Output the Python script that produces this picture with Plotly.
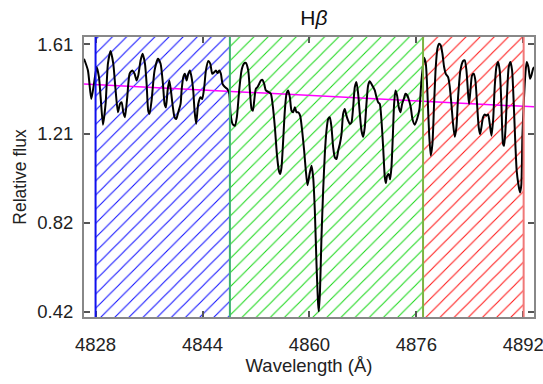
import plotly.graph_objects as go

# Spectrum (wavelength in Angstrom, relative flux)
wavelength = [
    4826.27, 4826.86, 4827.36, 4827.76, 4828.16, 4828.51, 4828.76, 4829.11, 4829.50, 4829.85,
    4830.25, 4830.65, 4831.00, 4831.35, 4831.65, 4831.90, 4832.15, 4832.40, 4832.74, 4833.09,
    4833.49, 4833.84, 4834.14, 4834.39, 4834.74, 4835.04, 4835.39, 4835.64, 4835.88, 4836.08,
    4836.38, 4836.83, 4837.33, 4837.73, 4838.08, 4838.33, 4838.53, 4838.78, 4839.03, 4839.27,
    4839.57, 4839.82, 4840.07, 4840.37, 4840.72, 4840.87, 4841.12, 4841.37, 4841.62, 4841.87,
    4842.12, 4842.36, 4842.61, 4842.81, 4843.05, 4843.36, 4843.71, 4843.96, 4844.26, 4844.51,
    4844.86, 4845.16, 4845.46, 4845.75, 4846.00, 4846.25, 4846.50, 4846.75, 4847.00, 4847.35,
    4847.70, 4848.00, 4848.20, 4848.50, 4848.85, 4849.14, 4849.49, 4849.84, 4850.19, 4850.49,
    4850.84, 4851.09, 4851.34, 4851.54, 4851.74, 4851.98, 4852.23, 4852.48, 4852.73, 4852.98,
    4853.23, 4853.48, 4853.93, 4854.23, 4854.48, 4854.83, 4855.13, 4855.43, 4855.62, 4855.82,
    4856.07, 4856.32, 4856.57, 4856.82, 4857.07, 4857.32, 4857.57, 4857.82, 4858.07, 4858.32,
    4858.61, 4858.91, 4859.21, 4859.46, 4859.71, 4860.01, 4860.31, 4860.56, 4860.81, 4861.06,
    4861.31, 4861.41, 4861.58, 4861.80, 4862.05, 4862.30, 4862.55, 4862.80, 4863.05, 4863.30,
    4863.55, 4863.80, 4864.05, 4864.30, 4864.55, 4864.80, 4865.04, 4865.29, 4865.54, 4865.79,
    4866.04, 4866.29, 4866.54, 4866.79, 4867.04, 4867.29, 4867.54, 4867.79, 4868.04, 4868.28,
    4868.53, 4868.78, 4869.03, 4869.28, 4869.53, 4869.78, 4870.03, 4870.28, 4870.53, 4870.78,
    4871.03, 4871.28, 4871.42, 4871.62, 4871.87, 4872.07, 4872.27, 4872.47, 4872.67, 4872.87,
    4873.12, 4873.37, 4873.62, 4873.87, 4874.12, 4874.37, 4874.66, 4874.91, 4875.16, 4875.41,
    4875.76, 4876.11, 4876.46, 4876.76, 4877.16, 4877.41, 4877.66, 4877.91, 4878.15, 4878.40,
    4878.65, 4878.90, 4879.15, 4879.40, 4879.65, 4879.90, 4880.15, 4880.40, 4880.75, 4881.00,
    4881.24, 4881.49, 4881.74, 4881.99, 4882.24, 4882.59, 4882.99, 4883.24, 4883.49, 4883.74,
    4883.89, 4884.09, 4884.33, 4884.58, 4884.83, 4885.08, 4885.33, 4885.53, 4885.73, 4885.98,
    4886.23, 4886.48, 4886.73, 4886.98, 4887.23, 4887.48, 4887.72, 4887.97, 4888.22, 4888.47,
    4888.72, 4888.97, 4889.12, 4889.32, 4889.57, 4889.82, 4890.07, 4890.32, 4890.57, 4890.81,
    4891.01, 4891.26, 4891.51, 4891.71, 4891.86, 4892.06, 4892.31, 4892.51, 4892.76, 4893.01,
    4893.21, 4893.46, 4893.61,
]
flux = [
    1.546, 1.494, 1.367, 1.434, 1.509, 1.464, 1.375, 1.253, 1.345, 1.524,
    1.580, 1.524, 1.405, 1.308, 1.345, 1.353, 1.308, 1.286, 1.375, 1.479,
    1.494, 1.479, 1.449, 1.472, 1.539, 1.568, 1.524, 1.434, 1.315, 1.301,
    1.360, 1.494, 1.546, 1.524, 1.434, 1.345, 1.330, 1.405, 1.449, 1.405,
    1.330, 1.286, 1.278, 1.308, 1.345, 1.405, 1.464, 1.479, 1.449, 1.479,
    1.494, 1.464, 1.405, 1.315, 1.257, 1.345, 1.375, 1.367, 1.420, 1.494,
    1.536, 1.524, 1.479, 1.486, 1.494, 1.482, 1.494, 1.479, 1.434, 1.420,
    1.412, 1.390, 1.301, 1.256, 1.248, 1.286, 1.405, 1.494, 1.524, 1.527,
    1.494, 1.405, 1.323, 1.315, 1.360, 1.412, 1.420, 1.434, 1.449, 1.452,
    1.434, 1.405, 1.397, 1.390, 1.345, 1.241, 1.122, 1.048, 1.033, 1.063,
    1.182, 1.315, 1.390, 1.405, 1.375, 1.315, 1.308, 1.330, 1.308, 1.308,
    1.293, 1.226, 1.137, 1.048, 0.983, 1.033, 1.070, 1.018, 0.869, 0.631,
    0.453, 0.423, 0.512, 0.750, 0.958, 1.122, 1.226, 1.278, 1.286, 1.241,
    1.152, 1.107, 1.100, 1.137, 1.167, 1.211, 1.301, 1.323, 1.293, 1.271,
    1.256, 1.263, 1.330, 1.420, 1.442, 1.390, 1.301, 1.226, 1.199, 1.241,
    1.345, 1.427, 1.446, 1.434, 1.420, 1.405, 1.375, 1.353, 1.345, 1.271,
    1.152, 1.018, 0.993, 1.025, 1.033, 1.010, 1.063, 1.196, 1.345, 1.405,
    1.382, 1.330, 1.308, 1.345, 1.367, 1.390, 1.382, 1.360, 1.330, 1.278,
    1.253, 1.278, 1.323, 1.449, 1.550, 1.524, 1.390, 1.211, 1.115, 1.167,
    1.345, 1.509, 1.591, 1.613, 1.605, 1.568, 1.509, 1.479, 1.464, 1.420,
    1.345, 1.256, 1.199, 1.241, 1.375, 1.494, 1.536, 1.539, 1.494, 1.390,
    1.345, 1.405, 1.472, 1.479, 1.449, 1.345, 1.241, 1.211, 1.241, 1.286,
    1.298, 1.293, 1.298, 1.256, 1.204, 1.271, 1.420, 1.509, 1.531, 1.494,
    1.345, 1.167, 1.159, 1.226, 1.390, 1.509, 1.531, 1.494, 1.345, 1.167,
    1.048, 0.988, 0.951, 0.988, 1.196, 1.345, 1.479, 1.531, 1.509, 1.457,
    1.472, 1.501, 1.509,
]

# Continuum fit (magenta line) endpoints
continuum_wave = [4826.27, 4893.61]
continuum_flux = [1.434, 1.332]

# Index bands: blue continuum, green line band, red continuum
band_names = ["blue", "line", "red"]
band_start = [4828.0, 4848.1, 4877.0]
band_end = [4848.1, 4877.0, 4892.05]
band_hatch_colors = ["#1414ff", "#1ed81e", "#ff1a1a"]
boundary_wave = [4828.0, 4848.1, 4877.0, 4892.05]
boundary_colors = ["#1010ee", "#3cb371", "#7cb342", "#f07878"]

x_ticks = [4828, 4844, 4860, 4876, 4892]
y_tickvals = [0.42, 0.8167, 1.2133, 1.61]
y_ticktext = ["0.42", "0.82", "1.21", "1.61"]

x_range = [4826.27, 4893.6]
y_range = [0.3977, 1.6426]

fig = go.Figure()

for s, e, c, n in zip(band_start, band_end, band_hatch_colors, band_names):
    fig.add_trace(go.Scatter(
        x=[s, e, e, s, s], y=[0, 0, 2, 2, 0],
        mode="lines", line=dict(width=0), fill="toself",
        fillcolor="rgba(0,0,0,0)",
        fillpattern=dict(shape="/", fgcolor=c, bgcolor="rgba(0,0,0,0)",
                         fgopacity=1, size=10, solidity=0.11),
        hoverinfo="skip", showlegend=False, name=n,
    ))

for w, c in zip(boundary_wave, boundary_colors):
    fig.add_shape(type="line", xref="x", yref="paper", x0=w, x1=w, y0=0, y1=1,
                  line=dict(color=c, width=2), layer="above")

fig.add_trace(go.Scatter(
    x=continuum_wave, y=continuum_flux, mode="lines",
    line=dict(color="#ff00ff", width=1.5), showlegend=False,
))

fig.add_trace(go.Scatter(
    x=wavelength, y=flux, mode="lines",
    line=dict(color="black", width=2, shape="spline", smoothing=0.6),
    showlegend=False,
))

font_family = "Liberation Sans, Arial, sans-serif"
fig.update_layout(
    width=543, height=384,
    margin=dict(l=84, r=9, t=37, b=67, autoexpand=False),
    paper_bgcolor="white", plot_bgcolor="white",
    font=dict(family=font_family, size=18.5, color="#222"),
    title=dict(text="H<i>β</i>", x=0.578, xanchor="center", y=0.955, yanchor="middle",
               font=dict(size=21, color="#111")),
    showlegend=False,
)
fig.update_xaxes(
    range=x_range, tickvals=x_ticks, ticks="inside", ticklen=6, tickwidth=1.5,
    tickcolor="#555", showline=True, linecolor="#888", linewidth=2, mirror="ticks",
    showgrid=False, zeroline=False, ticklabelstandoff=10, automargin=False,
    ticklabeloverflow="allow",
    title=dict(text="Wavelength (Å)", standoff=5, font=dict(size=18.5)),
)
fig.update_yaxes(
    range=y_range, tickvals=y_tickvals, ticktext=y_ticktext, ticks="inside", ticklen=6,
    tickwidth=1.5, tickcolor="#555", showline=True, linecolor="#888", linewidth=2,
    mirror="ticks", showgrid=False, zeroline=False, ticklabelstandoff=5, automargin=False,
    ticklabeloverflow="allow",
    title=dict(text="Relative flux", standoff=6, font=dict(size=17.5)),
)

fig.write_html("out.html")
